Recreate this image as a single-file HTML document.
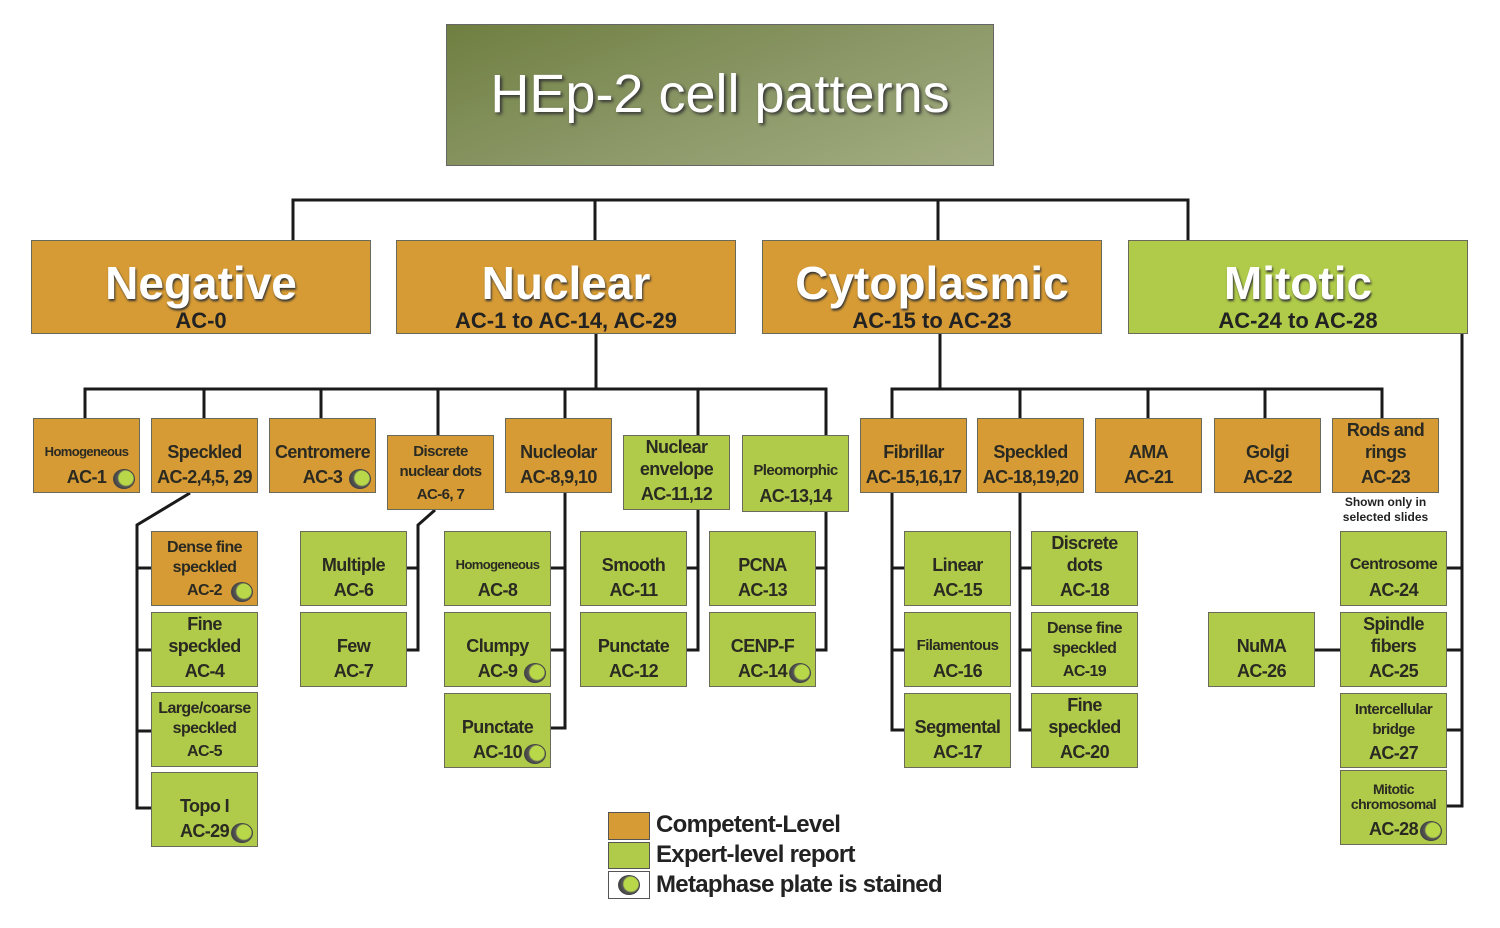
<!DOCTYPE html>
<html><head><meta charset="utf-8"><style>
body{margin:0;width:1500px;height:928px;background:#fff;position:relative;overflow:hidden;font-family:"Liberation Sans",sans-serif}
svg{position:absolute;left:0;top:0}
.b{position:absolute;width:107px;height:75px;border:1px solid #6a6a5a;box-sizing:border-box;display:flex;flex-direction:column;align-items:center;justify-content:flex-end;padding-bottom:4px;font-weight:bold;font-size:18px;color:#2a2a22;line-height:22px;text-align:center;letter-spacing:-0.6px;white-space:nowrap}
.b span+span{margin-top:3px}
.o{background:#d69b35}.g{background:#afcb49}
.s{font-size:13px}
.m{position:absolute;right:4px;bottom:3px;width:20px;height:18px;border-radius:50%;background:radial-gradient(circle at 60% 45%,#b8d84a 0 45%,#555 55%,#333 100%);border:1px solid #444}
.L{position:absolute;width:340px;height:94px;border:1px solid #6a6a5a;box-sizing:border-box;text-align:center;color:#222;font-weight:bold}
.L .t{font-size:46px;color:#fff;text-shadow:1px 2px 2px #333;margin-top:17px;line-height:50px}
.L .u{font-size:22px;line-height:26px}
</style></head><body>
<svg width="1500" height="928" stroke="#1a1a1a" stroke-width="3" fill="none">
<path d="M293 240V200H1188V240M595 200V240M938 200V240"/>
<path d="M596 333V389M85 418V389H826V435M204 389V418M321 389V418M438 389V435M565 389V418M698 389V435"/>
<path d="M940 333V389M892 418V389H1382V418M1020 389V418M1148 389V418M1265 389V418"/>
<path d="M1462 333V806H1447M1447 568H1462M1447 650H1462M1447 730H1462M1315 650H1340"/>
<path d="M190 493L137 525V808H151M137 568H151M137 650H151M137 731H151"/>
<path d="M435 510L418 525V650H407M407 568H418"/>
<path d="M565 493V728H551M551 568H565M551 650H565"/>
<path d="M698 510V650H687M687 568H698"/>
<path d="M826 512V650H816M816 568H826"/>
<path d="M892 493V730H904M892 568H904M892 650H904"/>
<path d="M1020 493V730H1031M1020 568H1031M1020 650H1031"/>
</svg>
<div style="position:absolute;left:446px;top:24px;width:548px;height:142px;border:1px solid #666;box-sizing:border-box;background:linear-gradient(160deg,#6f7f40 0%,#879462 45%,#a3ad82 100%);color:#fff;font-size:54px;text-align:center;line-height:138px;text-shadow:2px 2px 3px #333">HEp-2 cell patterns</div>
<div class="L" style="left:31px;top:240px;background:#d69b35"><div class="t">Negative</div><div class="u">AC-0</div></div>
<div class="L" style="left:396px;top:240px;background:#d69b35"><div class="t">Nuclear</div><div class="u">AC-1 to AC-14, AC-29</div></div>
<div class="L" style="left:762px;top:240px;background:#d69b35"><div class="t">Cytoplasmic</div><div class="u">AC-15 to AC-23</div></div>
<div class="L" style="left:1128px;top:240px;background:#afcb49"><div class="t">Mitotic</div><div class="u">AC-24 to AC-28</div></div>

<div class="b o" style="left:33px;top:418px"><span class="s">Homogeneous</span><span>AC-1</span><i class="m"></i></div>
<div class="b o" style="left:151px;top:418px"><span>Speckled</span><span>AC-2,4,5, 29</span></div>
<div class="b o" style="left:269px;top:418px"><span>Centromere</span><span>AC-3</span><i class="m"></i></div>
<div class="b o" style="left:387px;top:435px;font-size:15px;line-height:20px"><span>Discrete<br>nuclear dots</span><span>AC-6, 7</span></div>
<div class="b o" style="left:505px;top:418px"><span>Nucleolar</span><span>AC-8,9,10</span></div>
<div class="b g" style="left:623px;top:435px"><span>Nuclear<br>envelope</span><span>AC-11,12</span></div>
<div class="b g" style="left:742px;top:435px;height:77px"><span style="font-size:15px">Pleomorphic</span><span>AC-13,14</span></div>

<div class="b o" style="left:860px;top:418px"><span>Fibrillar</span><span>AC-15,16,17</span></div>
<div class="b o" style="left:977px;top:418px"><span>Speckled</span><span>AC-18,19,20</span></div>
<div class="b o" style="left:1095px;top:418px"><span>AMA</span><span>AC-21</span></div>
<div class="b o" style="left:1214px;top:418px"><span>Golgi</span><span>AC-22</span></div>
<div class="b o" style="left:1332px;top:418px"><span>Rods and<br>rings</span><span>AC-23</span></div>
<div style="position:absolute;left:1322px;top:495px;width:127px;text-align:center;font-size:12px;font-weight:bold;line-height:15px;color:#222">Shown only in<br>selected slides</div>

<div class="b o" style="left:151px;top:531px;font-size:16px;line-height:20px"><span>Dense fine<br>speckled</span><span>AC-2</span><i class="m"></i></div>
<div class="b g" style="left:151px;top:612px"><span>Fine<br>speckled</span><span>AC-4</span></div>
<div class="b g" style="left:151px;top:692px;font-size:16px;line-height:20px"><span>Large/coarse<br>speckled</span><span>AC-5</span></div>
<div class="b g" style="left:151px;top:772px"><span>Topo I</span><span>AC-29</span><i class="m"></i></div>

<div class="b g" style="left:300px;top:531px"><span>Multiple</span><span>AC-6</span></div>
<div class="b g" style="left:300px;top:612px"><span>Few</span><span>AC-7</span></div>

<div class="b g" style="left:444px;top:531px"><span class="s">Homogeneous</span><span>AC-8</span></div>
<div class="b g" style="left:444px;top:612px"><span>Clumpy</span><span>AC-9</span><i class="m"></i></div>
<div class="b g" style="left:444px;top:693px"><span>Punctate</span><span>AC-10</span><i class="m"></i></div>

<div class="b g" style="left:580px;top:531px"><span>Smooth</span><span>AC-11</span></div>
<div class="b g" style="left:580px;top:612px"><span>Punctate</span><span>AC-12</span></div>

<div class="b g" style="left:709px;top:531px"><span>PCNA</span><span>AC-13</span></div>
<div class="b g" style="left:709px;top:612px"><span>CENP-F</span><span>AC-14</span><i class="m"></i></div>

<div class="b g" style="left:904px;top:531px"><span>Linear</span><span>AC-15</span></div>
<div class="b g" style="left:904px;top:612px"><span style="font-size:15px">Filamentous</span><span>AC-16</span></div>
<div class="b g" style="left:904px;top:693px"><span>Segmental</span><span>AC-17</span></div>

<div class="b g" style="left:1031px;top:531px"><span>Discrete<br>dots</span><span>AC-18</span></div>
<div class="b g" style="left:1031px;top:612px;font-size:16px;line-height:20px"><span>Dense fine<br>speckled</span><span>AC-19</span></div>
<div class="b g" style="left:1031px;top:693px"><span>Fine<br>speckled</span><span>AC-20</span></div>

<div class="b g" style="left:1340px;top:531px"><span style="font-size:16px">Centrosome</span><span>AC-24</span></div>
<div class="b g" style="left:1340px;top:612px"><span>Spindle<br>fibers</span><span>AC-25</span></div>
<div class="b g" style="left:1340px;top:693px;font-size:15px;line-height:20px"><span>Intercellular<br>bridge</span><span style="font-size:18px">AC-27</span></div>
<div class="b g" style="left:1340px;top:770px;font-size:14px;line-height:15px"><span>Mitotic<br>chromosomal</span><span style="font-size:18px;line-height:22px;margin-top:6px">AC-28</span><i class="m"></i></div>
<div class="b g" style="left:1208px;top:612px"><span>NuMA</span><span>AC-26</span></div>

<div style="position:absolute;left:608px;top:812px;width:42px;height:28px;background:#d69b35;border:1px solid #555;box-sizing:border-box"></div>
<div style="position:absolute;left:608px;top:842px;width:42px;height:27px;background:#afcb49;border:1px solid #555;box-sizing:border-box"></div>
<div style="position:absolute;left:608px;top:871px;width:42px;height:28px;background:#fff;border:1px solid #555;box-sizing:border-box"><i class="m" style="right:9px;bottom:3px"></i></div>
<div style="position:absolute;left:656px;top:810px;font-size:24px;line-height:30px;color:#222;font-weight:bold;letter-spacing:-0.7px">Competent-Level<br>Expert-level report<br>Metaphase plate is stained</div>
</body></html>
